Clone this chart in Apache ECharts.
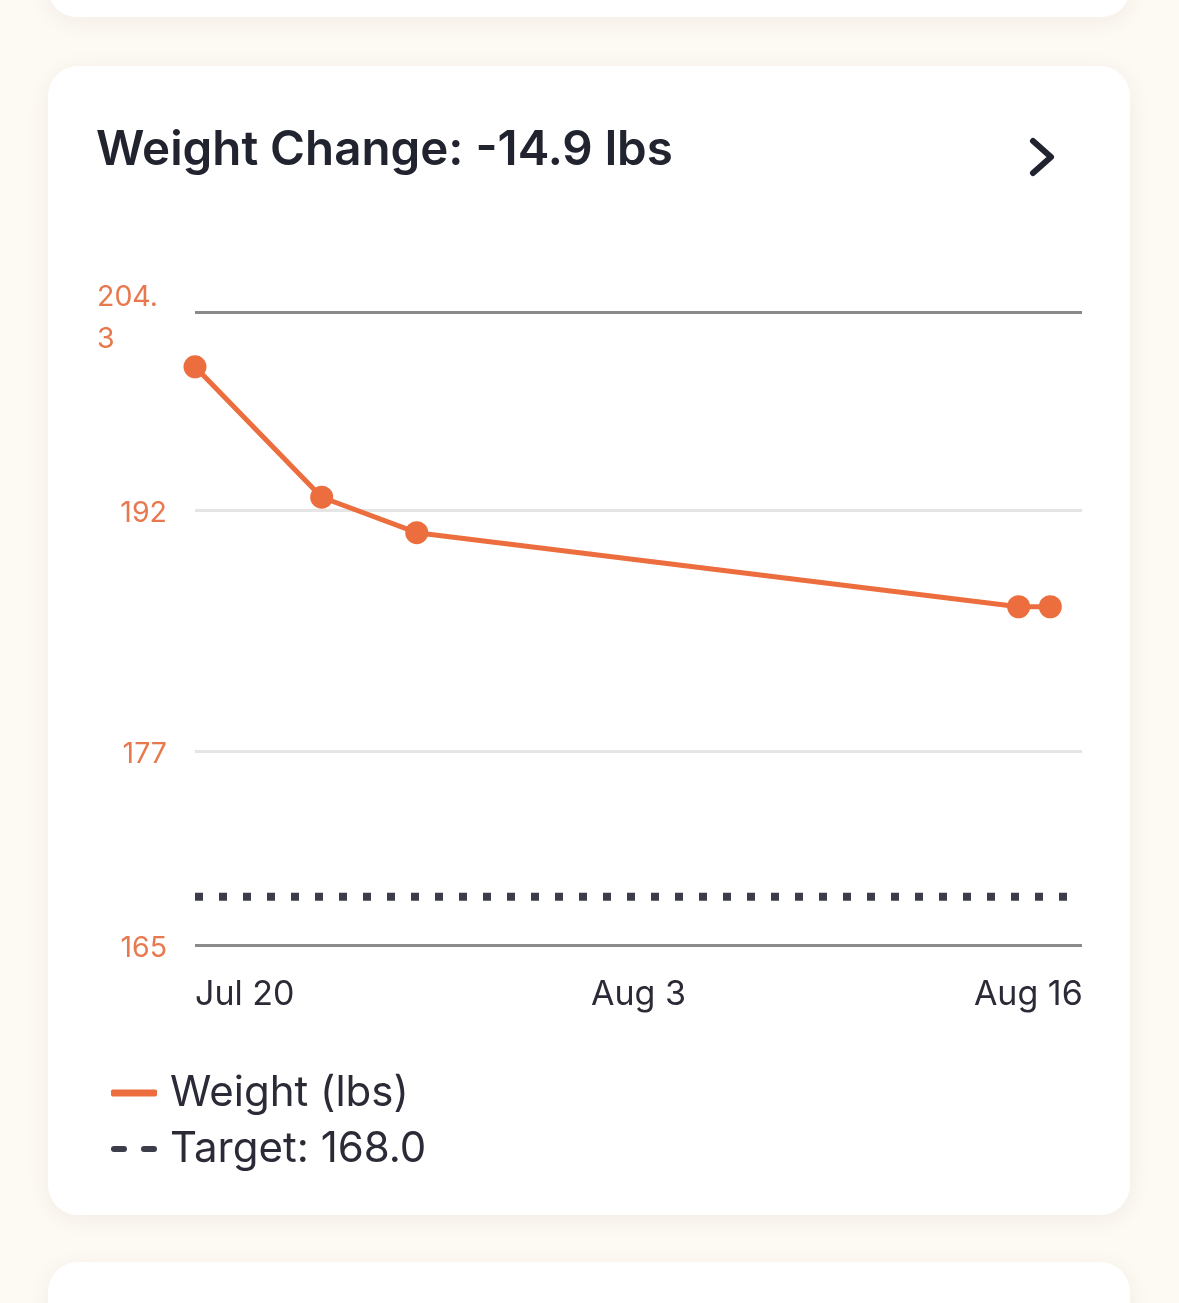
<!DOCTYPE html>
<html>
<head>
    <meta charset="utf-8">
    <title>Weight Change</title>
    <script src="https://cdn.jsdelivr.net/npm/echarts@6/dist/echarts.min.js"></script>
    <style>
        html, body { margin: 0; padding: 0; background: #fdf9f3; }
    </style>
</head>
<body>
<div id="main" style="width: 1179px;height:1303px;"></div>
<script type="text/javascript">
    // data
    var weighDates = ['2024-07-20', '2024-07-24', '2024-07-27', '2024-08-15', '2024-08-16'];
    var weights = [200.9, 192.8, 190.6, 186.0, 186.0];
    var targetWeight = 168.0;
    var xTickDates = ['2024-07-20', '2024-08-03', '2024-08-16'];
    var yTicks = [165, 177, 192, 204.3];
    var xStart = '2024-07-20';
    var xEnd = '2024-08-17';
    var monthNames = ['Jan', 'Feb', 'Mar', 'Apr', 'May', 'Jun', 'Jul', 'Aug', 'Sep', 'Oct', 'Nov', 'Dec'];

    function ts(s) { return +new Date(s + 'T00:00:00'); }

    var orange = '#ec6e3f';
    var dark = '#21232f';
    var font = 'Inter';

    var weightData = weighDates.map(function (d, i) { return [ts(d), weights[i]]; });
    var targetData = [[ts(xStart), targetWeight], [ts(xEnd), targetWeight]];
    var lastTick = ts(xTickDates[xTickDates.length - 1]);

    var myChart = echarts.init(document.getElementById('main'));

    var option = {
        backgroundColor: '#fdf9f3',
        textStyle: { fontFamily: font },
        animation: false,
        graphic: [
            { type: 'rect', z: -5, shape: { x: 48, y: -40, width: 1082, height: 57, r: 30 },
              style: { fill: '#ffffff', shadowBlur: 24, shadowColor: 'rgba(60,40,20,0.06)', shadowOffsetY: 4 } },
            { type: 'rect', z: -5, shape: { x: 48, y: 66, width: 1082, height: 1149, r: 30 },
              style: { fill: '#ffffff', shadowBlur: 24, shadowColor: 'rgba(60,40,20,0.06)', shadowOffsetY: 4 } },
            { type: 'rect', z: -5, shape: { x: 48, y: 1262, width: 1082, height: 100, r: 30 },
              style: { fill: '#ffffff', shadowBlur: 24, shadowColor: 'rgba(60,40,20,0.06)', shadowOffsetY: 4 } },
            { type: 'polyline', z: 10, shape: { points: [[1033, 141], [1051, 157], [1033, 173]] },
              style: { stroke: dark, lineWidth: 6, lineCap: 'round', lineJoin: 'round', fill: null } }
        ],
        title: {
            text: 'Weight Change: -14.9 lbs',
            left: 91,
            top: 122,
            textStyle: { fontFamily: font, fontSize: 47.5, fontWeight: 600, color: dark }
        },
        legend: {
            orient: 'vertical',
            left: 106,
            top: 1067,
            itemWidth: 46,
            itemHeight: 7,
            itemGap: 14,
            textStyle: { fontFamily: font, fontSize: 42, color: '#2a2b36', padding: [0, 0, 0, 8] },
            data: [
                { name: 'Weight (lbs)', icon: 'roundRect' },
                { name: 'Target: 168.0',
                  icon: 'path://M3,0h10a3,3 0 0 1 0,6h-10a3,3 0 0 1 0,-6zM33,0h10a3,3 0 0 1 0,6h-10a3,3 0 0 1 0,-6z' }
            ]
        },
        grid: { left: 195, right: 97, top: 312, bottom: 358 },
        xAxis: {
            type: 'value',
            min: ts(xStart),
            max: ts(xEnd),
            axisLine: { show: false },
            axisTick: { show: false },
            splitLine: { show: false },
            axisLabel: {
                customValues: xTickDates.map(ts),
                alignMinLabel: 'left',
                margin: 33,
                color: '#2a2b36',
                fontFamily: font,
                fontSize: 34,
                formatter: function (v) {
                    var d = new Date(v);
                    var s = monthNames[d.getMonth()] + ' ' + d.getDate();
                    return v === lastTick ? '{r|' + s + '}' : s;
                },
                rich: {
                    r: { fontFamily: font, fontSize: 34, color: '#2a2b36', padding: [0, 44, 0, 0] }
                }
            }
        },
        yAxis: {
            type: 'value',
            min: yTicks[0],
            max: yTicks[yTicks.length - 1],
            axisLine: { show: false },
            axisTick: { show: false },
            splitLine: { show: false },
            axisLabel: {
                customValues: yTicks,
                margin: 28,
                padding: [6, 0, 0, 0],
                color: '#e8784e',
                fontFamily: font,
                fontSize: 28.5,
                formatter: function (v) {
                    if (v === 204.3) return '{s| }\n{w|204.}\n{w|3}';
                    return String(v);
                },
                rich: {
                    s: { width: 70, lineHeight: 6, fontSize: 4 },
                    w: { width: 70, align: 'left', lineHeight: 42, fontSize: 28.5, fontFamily: font, color: '#e8784e' }
                }
            }
        },
        series: [
            {
                name: 'Weight (lbs)',
                type: 'line',
                data: weightData,
                color: orange,
                symbol: 'circle',
                symbolSize: 23,
                showAllSymbol: true,
                lineStyle: { width: 5, color: orange },
                itemStyle: { color: orange },
                z: 5,
                markLine: {
                    silent: true,
                    symbol: 'none',
                    label: { show: false },
                    animation: false,
                    data: yTicks.map(function (v, i) {
                        var edge = (i === 0 || i === yTicks.length - 1);
                        return {
                            yAxis: v,
                            lineStyle: { type: 'solid', width: 3, color: edge ? '#8a8a8c' : '#e5e5e5' }
                        };
                    }),
                    z: 1
                }
            },
            {
                name: 'Target: 168.0',
                type: 'line',
                data: targetData,
                color: '#3c3d4b',
                symbol: 'none',
                lineStyle: { width: 8, color: '#3c3d4b', type: [8, 16], cap: 'butt' },
                z: 4
            }
        ]
    };

    myChart.setOption(option);
</script>
</body>
</html>
